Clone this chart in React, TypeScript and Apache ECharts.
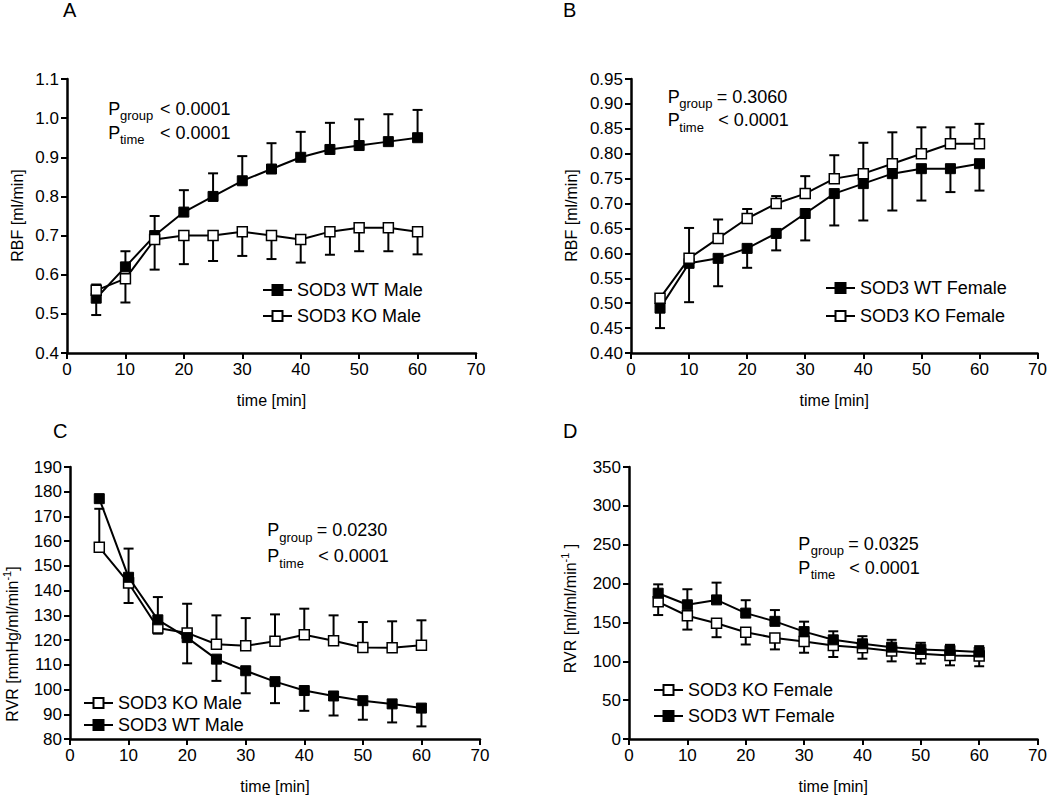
import React, { useEffect, useRef } from "react";
import * as echarts from "echarts";

const FONT = "'Liberation Sans', Arial, Helvetica, sans-serif";

// time points (min)
const time = [5, 10, 15, 20, 25, 30, 35, 40, 45, 50, 55, 60];
const xTickMax = 70;

// Panel A – RBF male
const aWtMale = [0.54, 0.62, 0.70, 0.76, 0.80, 0.84, 0.87, 0.90, 0.92, 0.93, 0.94, 0.95];
const aWtMaleHi = [0.575, 0.66, 0.75, 0.816, 0.859, 0.903, 0.936, 0.965, 0.988, 0.997, 1.01, 1.021];
const aKoMale = [0.56, 0.59, 0.69, 0.70, 0.70, 0.71, 0.70, 0.69, 0.71, 0.72, 0.72, 0.71];
const aKoMaleLo = [0.497, 0.529, 0.613, 0.627, 0.635, 0.648, 0.64, 0.631, 0.651, 0.66, 0.66, 0.652];

// Panel B – RBF female
const bWtFemale = [0.49, 0.58, 0.59, 0.61, 0.64, 0.68, 0.72, 0.74, 0.76, 0.77, 0.77, 0.78];
const bWtFemaleLo = [0.45, 0.502, 0.534, 0.571, 0.606, 0.626, 0.656, 0.666, 0.686, 0.706, 0.723, 0.726];
const bKoFemale = [0.51, 0.59, 0.63, 0.67, 0.70, 0.72, 0.75, 0.76, 0.78, 0.80, 0.82, 0.82];
const bKoFemaleHi = [null, 0.651, 0.668, 0.689, 0.715, 0.755, 0.797, 0.822, 0.843, 0.853, 0.853, 0.86];

// Panel C – RVR male
const cKoMale = [157.5, 143.1, 124.9, 122.9, 118.3, 117.7, 119.5, 122.2, 119.7, 117.0, 116.9, 117.9];
const cKoMaleHi = [173.1, 157.0, 137.4, 134.7, 130.0, 128.9, 130.4, 132.7, 130.0, 127.3, 127.6, 128.0];
const cWtMale = [177.2, 145.4, 128.2, 121.0, 112.3, 107.6, 103.2, 99.6, 97.4, 95.5, 94.2, 92.5];
const cWtMaleLo = [null, 135.0, 122.6, 110.6, 103.5, 98.5, 94.5, 91.4, 89.5, 87.8, 86.7, 85.1];

// Panel D – RVR female
const dWtFemale = [187.6, 172.7, 179.0, 162.0, 151.4, 138.2, 127.6, 122.5, 118.2, 115.3, 114.0, 111.9];
const dWtFemaleHi = [199.0, 192.7, 201.2, 178.6, 165.9, 151.0, 138.6, 132.3, 127.6, 123.8, 121.2, 119.5];
const dKoFemale = [176.5, 158.6, 148.9, 137.4, 130.1, 125.5, 120.4, 117.4, 113.1, 109.7, 107.6, 106.7];
const dKoFemaleLo = [159.5, 140.8, 131.0, 121.6, 115.3, 111.0, 105.5, 103.3, 99.9, 97.0, 94.8, 93.6];

// Axis ranges per panel [min, max, interval, decimals]
const yRanges = [
  [0.4, 1.1, 0.1, 1],
  [0.4, 0.95, 0.05, 2],
  [80, 190, 10, 0],
  [0, 350, 50, 0],
];

const panelLetters = ["A", "B", "C", "D"];
const yTitles = [
  "RBF [ml/min]",
  "RBF [ml/min]",
  "RVR [mmHg/ml/min{sup|-1}]",
  "RVR [ml/ml/min{sup|-1} ]",
];
const xTitle = "time [min]";
const pGroupTexts = ["< 0.0001", "= 0.3060", "= 0.0230", "= 0.0325"];
const pTimeTexts = ["< 0.0001", "< 0.0001", "< 0.0001", "< 0.0001"];

type Ser = {
  name: string;
  values: number[];
  lo?: (number | null)[];
  hi?: (number | null)[];
  filled: boolean;
};

const panelSeries: Ser[][] = [
  [
    { name: "SOD3 WT Male", values: aWtMale, hi: aWtMaleHi, filled: true },
    { name: "SOD3 KO Male", values: aKoMale, lo: aKoMaleLo, filled: false },
  ],
  [
    { name: "SOD3 WT Female", values: bWtFemale, lo: bWtFemaleLo, filled: true },
    { name: "SOD3 KO Female", values: bKoFemale, hi: bKoFemaleHi, filled: false },
  ],
  [
    { name: "SOD3 KO Male", values: cKoMale, hi: cKoMaleHi, filled: false },
    { name: "SOD3 WT Male", values: cWtMale, lo: cWtMaleLo, filled: true },
  ],
  [
    { name: "SOD3 KO Female", values: dKoFemale, lo: dKoFemaleLo, filled: false },
    { name: "SOD3 WT Female", values: dWtFemale, hi: dWtFemaleHi, filled: true },
  ],
];
const legendOrders = [
  ["SOD3 WT Male", "SOD3 KO Male"],
  ["SOD3 WT Female", "SOD3 KO Female"],
  ["SOD3 KO Male", "SOD3 WT Male"],
  ["SOD3 KO Female", "SOD3 WT Female"],
];

// layout (pixels)
const grids = [
  { left: 67, top: 79, width: 409, height: 274 },
  { left: 631, top: 79, width: 409, height: 274 },
  { left: 70, top: 467, width: 410, height: 274 },
  { left: 629, top: 467, width: 409, height: 274 },
];
const legendPos = [
  { left: 262, top: 281, gap: 8 },
  { left: 825, top: 279, gap: 10 },
  { left: 83, top: 694, gap: 4 },
  { left: 653, top: 681, gap: 8 },
];
const letterPos = [
  { x: 63, b: 16.7 },
  { x: 563, b: 17 },
  { x: 53, b: 438.3 },
  { x: 563, b: 438 },
];
const yTitlePos = [
  { x: 17.5, y: 215.5 },
  { x: 571, y: 215.5 },
  { x: 12, y: 644 },
  { x: 570.5, y: 608.5 },
];
const pPos = [
  { px: 108.3, sx: 120, v1: 160, v2: 160, b1: 115, b2: 139.3 },
  { px: 667.7, sx: 679.3, v1: 716.7, v2: 718.3, b1: 103.3, b2: 126.7 },
  { px: 267.3, sx: 279.3, v1: 316.7, v2: 318.3, b1: 536.7, b2: 562.7 },
  { px: 798.3, sx: 810.7, v1: 848.3, v2: 849.3, b1: 550, b2: 574 },
];

const renderErr = (params: any, api: any) => {
  const x = api.value(0);
  const y = api.value(1);
  const lo = api.value(2);
  const hi = api.value(3);
  const pLo = api.coord([x, lo]);
  const pHi = api.coord([x, hi]);
  const cx = pLo[0];
  const st = { stroke: "#000", lineWidth: 2 };
  const children: any[] = [
    { type: "line", shape: { x1: cx, y1: pLo[1], x2: cx, y2: pHi[1] }, style: st },
  ];
  if (lo < y)
    children.push({ type: "line", shape: { x1: cx - 5, y1: pLo[1], x2: cx + 5, y2: pLo[1] }, style: st });
  if (hi > y)
    children.push({ type: "line", shape: { x1: cx - 5, y1: pHi[1], x2: cx + 5, y2: pHi[1] }, style: st });
  return { type: "group", children };
};

function buildOption() {
  const xAxis: any[] = [];
  const yAxis: any[] = [];
  const series: any[] = [];
  const legend: any[] = [];
  const graphic: any[] = [];

  grids.forEach((g, i) => {
    const [mn, mx, iv, dec] = yRanges[i];
    const axisCommon = {
      axisLine: { show: true, onZero: false, lineStyle: { color: "#000", width: 2.5 } },
      axisTick: { show: true, length: 6, lineStyle: { color: "#000", width: 2 } },
      splitLine: { show: false },
    };
    xAxis.push({
      type: "value",
      gridIndex: i,
      min: 0,
      max: xTickMax,
      interval: 10,
      ...axisCommon,
      axisLabel: { fontSize: 17, color: "#000", fontFamily: FONT, margin: 8 },
      name: xTitle,
      nameLocation: "middle",
      nameGap: 39,
      nameTextStyle: { fontSize: 16, color: "#000", fontFamily: FONT },
    });
    yAxis.push({
      type: "value",
      gridIndex: i,
      min: mn,
      max: mx,
      interval: iv,
      ...axisCommon,
      axisLabel: {
        fontSize: 17,
        color: "#000",
        fontFamily: FONT,
        margin: 8,
        formatter: (v: number) => v.toFixed(dec),
      },
    });

    panelSeries[i].forEach((s) => {
      series.push({
        type: "custom",
        xAxisIndex: i,
        yAxisIndex: i,
        renderItem: renderErr,
        silent: true,
        clip: false,
        z: 1,
        encode: { x: 0, y: 1 },
        data: time.map((t, k) => [
          t,
          s.values[k],
          s.lo && s.lo[k] != null ? s.lo[k] : s.values[k],
          s.hi && s.hi[k] != null ? s.hi[k] : s.values[k],
        ]),
      });
    });
    panelSeries[i].forEach((s, j) => {
      series.push({
        type: "line",
        name: s.name,
        xAxisIndex: i,
        yAxisIndex: i,
        z: 3 + j,
        symbol: "rect",
        symbolSize: 10,
        showAllSymbol: true,
        silent: true,
        lineStyle: { color: "#000", width: 2 },
        itemStyle: s.filled
          ? { color: "#000", borderColor: "#000", borderWidth: 1 }
          : { color: "#fff", borderColor: "#000", borderWidth: 1.5 },
        data: time.map((t, k) => [t, s.values[k]]),
      });
    });

    const lp = legendPos[i];
    legend.push({
      data: legendOrders[i],
      orient: "vertical",
      left: lp.left,
      top: lp.top,
      itemGap: lp.gap,
      itemWidth: 29,
      itemHeight: 12.5,
      padding: 0,
      selectedMode: false,
      textStyle: { fontSize: 18, color: "#000", fontFamily: FONT },
    });

    const L = letterPos[i];
    graphic.push({
      type: "text",
      x: L.x,
      y: L.b - 6.9,
      style: { text: panelLetters[i], fontSize: 20, fontFamily: FONT, fill: "#000", verticalAlign: "middle" },
    });

    const T = yTitlePos[i];
    graphic.push({
      type: "text",
      x: T.x,
      y: T.y,
      rotation: Math.PI / 2,
      style: {
        text: yTitles[i],
        fontSize: 16,
        fontFamily: FONT,
        fill: "#000",
        align: "center",
        verticalAlign: "middle",
        lineHeight: 22,
        rich: {
          sup: { fontSize: 11, fontFamily: FONT, fill: "#000", verticalAlign: "top", lineHeight: 11 },
        },
      },
    });

    const P = pPos[i];
    const pieces = [
      { x: P.px, b: P.b1, t: "P", fs: 18 },
      { x: P.sx, b: P.b1 + 5, t: "group", fs: 13 },
      { x: P.v1, b: P.b1, t: pGroupTexts[i], fs: 18 },
      { x: P.px, b: P.b2, t: "P", fs: 18 },
      { x: P.sx, b: P.b2 + 5, t: "time", fs: 13 },
      { x: P.v2, b: P.b2, t: pTimeTexts[i], fs: 18 },
    ];
    pieces.forEach((p) => {
      graphic.push({
        type: "text",
        x: p.x,
        y: p.b - 0.3465 * p.fs,
        style: { text: p.t, fontSize: p.fs, fontFamily: FONT, fill: "#000", verticalAlign: "middle" },
      });
    });
  });

  return {
    animation: false,
    backgroundColor: "#fff",
    grid: grids.map((g) => ({ ...g, containLabel: false })),
    xAxis,
    yAxis,
    legend,
    series,
    graphic,
  };
}

export default function App() {
  const ref = useRef<HTMLDivElement>(null);
  useEffect(() => {
    document.body.style.margin = "0";
    const chart = echarts.init(ref.current!, undefined, { renderer: "svg" });
    chart.setOption(buildOption() as any);
    return () => chart.dispose();
  }, []);
  return (
    <div
      ref={ref}
      style={{ position: "absolute", left: 0, top: 0, width: 1050, height: 795 }}
    />
  );
}
